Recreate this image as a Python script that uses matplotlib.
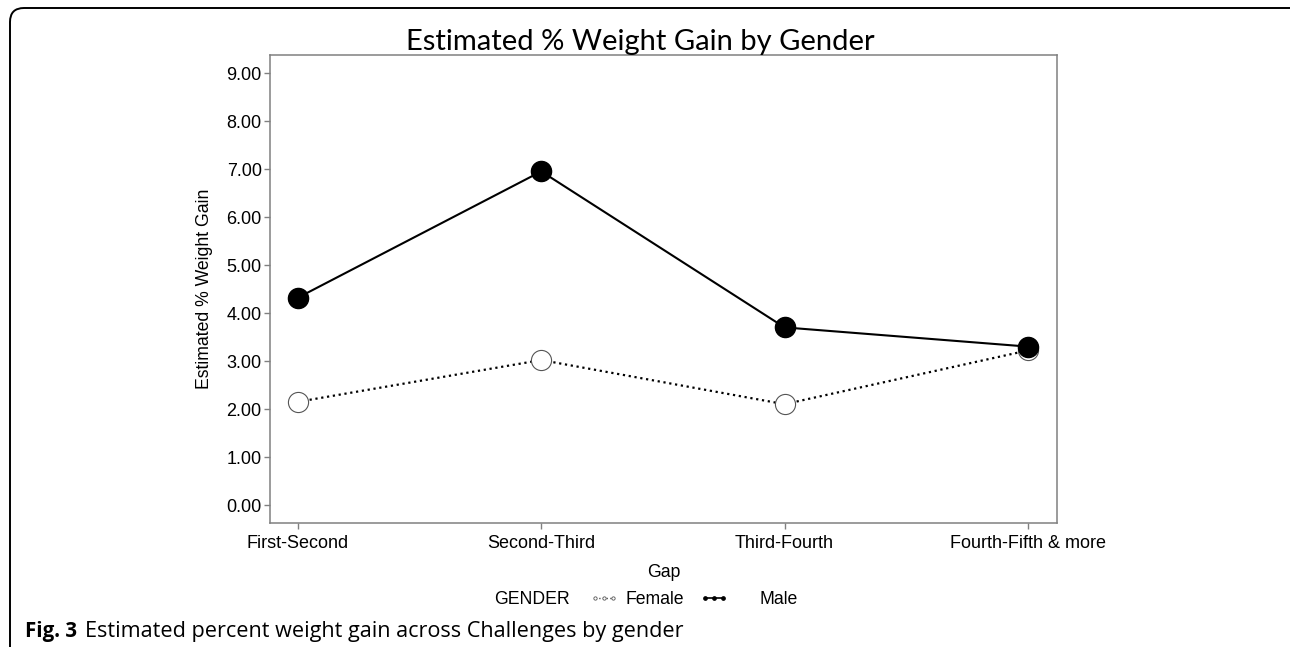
import matplotlib
matplotlib.use('Agg')
import matplotlib.pyplot as plt
from matplotlib.lines import Line2D
from matplotlib.patches import FancyBboxPatch

gaps = ['First-Second', 'Second-Third', 'Third-Fourth', 'Fourth-Fifth & more']
female = [2.15, 3.02, 2.10, 3.22]
male = [4.32, 6.95, 3.70, 3.30]
yticks = [0, 1, 2, 3, 4, 5, 6, 7, 8, 9]

W, H = 1290, 647
fig = plt.figure(figsize=(W / 100, H / 100), dpi=100)
ax = fig.add_axes([270 / W, 1 - 523 / H, (1057 - 270) / W, (523 - 55) / H])

x = list(range(len(gaps)))
ax.plot(x, female, color='black', linestyle=':', linewidth=1.6,
        marker='o', markersize=14.5, markerfacecolor='white',
        markeredgecolor='#555555', markeredgewidth=0.8, zorder=2)
ax.plot(x, male, color='black', linestyle='-', linewidth=1.5,
        marker='o', markersize=14.5, markerfacecolor='black',
        markeredgecolor='black', zorder=3)

ax.set_xlim(-0.115, 3.12)
ax.set_ylim(-0.375, 9.375)
ax.set_xticks(x)
ax.set_xticklabels(gaps)
ax.set_yticks(yticks)
ax.set_yticklabels([f'{v:.2f}' for v in yticks])

for s in ax.spines.values():
    s.set_color('#808080')
    s.set_linewidth(1.1)
ax.tick_params(colors='#808080', labelcolor='black', length=4, width=1,
               labelsize=13, pad=2)
ax.tick_params(axis='x', pad=5)
for lab in ax.get_xticklabels() + ax.get_yticklabels():
    lab.set_family('Liberation Sans')

ax.set_xlabel('Gap', family='Liberation Sans', fontsize=12.7, labelpad=8)
ax.set_ylabel('Estimated % Weight Gain', family='Liberation Sans',
              fontsize=12.7, labelpad=10)

fig.text(640 / W, 1 - 42 / H, 'Estimated % Weight Gain by Gender',
         family='Lato', fontsize=21, ha='center', va='center')

# legend
fig.text(532 / W, 1 - 600 / H, 'GENDER', family='Liberation Sans',
         fontsize=12.7, ha='center', va='center')
h_female = Line2D([], [], color='#555555', linestyle=':', linewidth=1,
                  marker='o', markersize=2.4, markerfacecolor='white',
                  markeredgewidth=0.6)
h_male = Line2D([], [], color='black', linestyle='-', linewidth=1.2,
                marker='o', markersize=2.4)
leg_kw = dict(loc='center left', frameon=False, numpoints=3,
              handlelength=1.6, handletextpad=0.4, borderpad=0,
              borderaxespad=0, prop={'family': 'Liberation Sans', 'size': 12.7})
fig.legend([h_female], ['Female'], bbox_to_anchor=(590 / W, 1 - 600 / H),
           **leg_kw)
leg_kw['handletextpad'] = 1.8
fig.legend([h_male], ['Male'], bbox_to_anchor=(700 / W, 1 - 600 / H), **leg_kw)

# caption
fig.text(25 / W, 1 - 632 / H, 'Fig. 3', family='Open Sans', weight='bold',
         fontsize=14.8, ha='left', va='center')
fig.text(85 / W, 1 - 632 / H,
         'Estimated percent weight gain across Challenges by gender',
         family='Open Sans', fontsize=15.6, ha='left', va='center')

# page frame (top and left edges with rounded corner)
frame = FancyBboxPatch((10, -40), 1330, H - 8 + 40,
                       boxstyle='round,pad=0,rounding_size=14',
                       fill=False, edgecolor='black', linewidth=1.4,
                       transform=None, figure=fig)
fig.patches.append(frame)

fig.savefig('out.png', dpi=100)
